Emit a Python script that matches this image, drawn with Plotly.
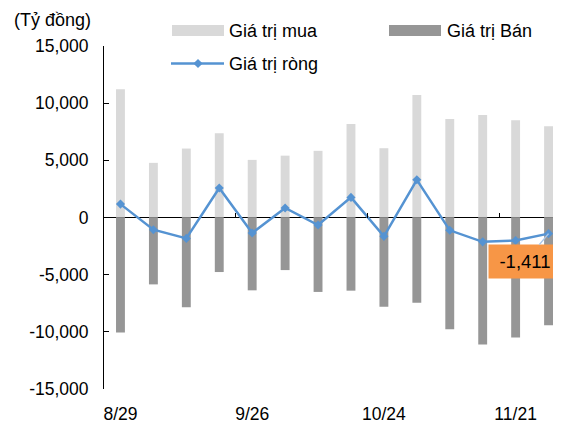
import plotly.graph_objects as go

# ---- data ----
categories = ["8/29", "9/5", "9/12", "9/19", "9/26", "10/3", "10/10",
              "10/17", "10/24", "10/31", "11/7", "11/14", "11/21", "11/28"]
buy_values = [11210, 4780, 6030, 7370, 5040, 5410, 5830,
              8180, 6060, 10720, 8620, 8970, 8510, 7980]
sell_values = [-10060, -5850, -7850, -4770, -6370, -4600, -6510,
               -6400, -7800, -7450, -9770, -11110, -10500, -9420]
net_values = [1170, -1070, -1830, 2580, -1350, 830, -660,
              1760, -1650, 3300, -1120, -2130, -2010, -1411]
y_tick_values = [-15000, -10000, -5000, 0, 5000, 10000, 15000]
y_tick_labels = ["-15,000", "-10,000", "-5,000", "0", "5,000", "10,000", "15,000"]
series_names = ["Giá trị mua", "Giá trị Bán", "Giá trị ròng"]
unit_label = "(Tỷ đồng)"

# ---- styles ----
FONT = "Liberation Sans"
BUY_C = "#D9D9D9"
SELL_C = "#969696"
NET_C = "#5593D2"
OFF = 8                      # page body margin offset
W, H = 561 - OFF, 425 - OFF
L, T, PW, PH = 104 - OFF, 46 - OFF, 457, 343
B = H - T - PH
n = len(categories)
x_idx = list(range(n))
x_range = [-0.5, -0.5 + PW / 32.93]


def px(x):
    return (x - OFF - L) / PW


def py(y):
    return 1 - (y - OFF - T) / PH


fig = go.Figure()
fig.add_trace(go.Bar(x=x_idx, y=buy_values, name=series_names[0],
                     marker=dict(color=BUY_C, line=dict(width=0)), width=0.27))
fig.add_trace(go.Bar(x=x_idx, y=sell_values, name=series_names[1],
                     marker=dict(color=SELL_C, line=dict(width=0)), width=0.27))
fig.add_trace(go.Scatter(x=x_idx, y=net_values, name=series_names[2], xaxis="x2",
                         mode="lines+markers",
                         line=dict(color=NET_C, width=2.5),
                         marker=dict(symbol="diamond", size=7, color=NET_C)))

last = net_values[-1]
label_text = ("-" if last < 0 else "") + f"{abs(last):,}"
annotations = [
    dict(xref="x2", yref="y", x=x_idx[-1], y=last, text=label_text,
         showarrow=True, arrowhead=0, arrowwidth=1.5, arrowcolor="#A9C6EA",
         ax=-23.5, ay=28, standoff=0, width=70, height=31,
         bgcolor="#F79646", font=dict(family=FONT, size=18.5, color="#000")),
    dict(xref="paper", yref="paper", x=px(12), y=py(20.5), xanchor="left",
         yanchor="middle", text=unit_label, showarrow=False,
         font=dict(family=FONT, size=18, color="#000")),
    dict(xref="paper", yref="paper", x=px(227), y=py(31), xanchor="left",
         yanchor="middle", text=series_names[0], showarrow=False,
         font=dict(family=FONT, size=18, color="#000")),
    dict(xref="paper", yref="paper", x=px(445), y=py(31), xanchor="left",
         yanchor="middle", text=series_names[1], showarrow=False,
         font=dict(family=FONT, size=18, color="#000")),
    dict(xref="paper", yref="paper", x=px(227), y=py(64), xanchor="left",
         yanchor="middle", text=series_names[2], showarrow=False,
         font=dict(family=FONT, size=18, color="#000")),
]

shapes = [
    dict(type="rect", xref="paper", yref="paper", x0=px(172), x1=px(224),
         y0=py(36), y1=py(25), fillcolor=BUY_C, line=dict(width=0)),
    dict(type="rect", xref="paper", yref="paper", x0=px(389), x1=px(441),
         y0=py(36), y1=py(25), fillcolor=SELL_C, line=dict(width=0)),
    dict(type="line", xref="paper", yref="paper", x0=px(171), x1=px(224),
         y0=py(63.5), y1=py(63.5), line=dict(color=NET_C, width=2.5)),
    dict(type="path", xref="paper", yref="paper", xsizemode="pixel",
         ysizemode="pixel", xanchor=px(198), yanchor=py(63.5),
         path="M -4.6 0 L 0 4.6 L 4.6 0 L 0 -4.6 Z",
         fillcolor=NET_C, line=dict(width=0)),
]

fig.update_layout(
    width=W, height=H,
    margin=dict(l=L, r=W - L - PW, t=T, b=B, pad=0),
    paper_bgcolor="white", plot_bgcolor="white",
    barmode="overlay", showlegend=False,
    font=dict(family=FONT, size=17.5, color="#000"),
    xaxis=dict(range=x_range, tickmode="array", tickvals=x_idx[::4],
               ticktext=categories[::4], ticks="", showline=False,
               showgrid=False, zeroline=False, ticklabelstandoff=12,
               tickfont=dict(family=FONT, size=17.5, color="#000")),
    xaxis2=dict(range=x_range, overlaying="x", anchor="free", position=0.5,
                side="bottom", tickmode="array",
                tickvals=[i - 0.5 for i in x_idx[::4]], ticks="inside",
                ticklen=5, tickcolor="#000", tickwidth=1,
                showticklabels=False, showline=False, showgrid=False,
                zeroline=False),
    yaxis=dict(range=[y_tick_values[0], y_tick_values[-1]], tickmode="array",
               tickvals=y_tick_values, ticktext=y_tick_labels,
               ticks="inside", ticklen=5, tickcolor="#000", tickwidth=1,
               showline=True, linecolor="#000", linewidth=1,
               showgrid=False, zeroline=True, zerolinecolor="#000",
               zerolinewidth=1, ticklabelstandoff=11,
               tickfont=dict(family=FONT, size=17.5, color="#000")),
    annotations=annotations, shapes=shapes,
)

fig.write_html("out.html")
